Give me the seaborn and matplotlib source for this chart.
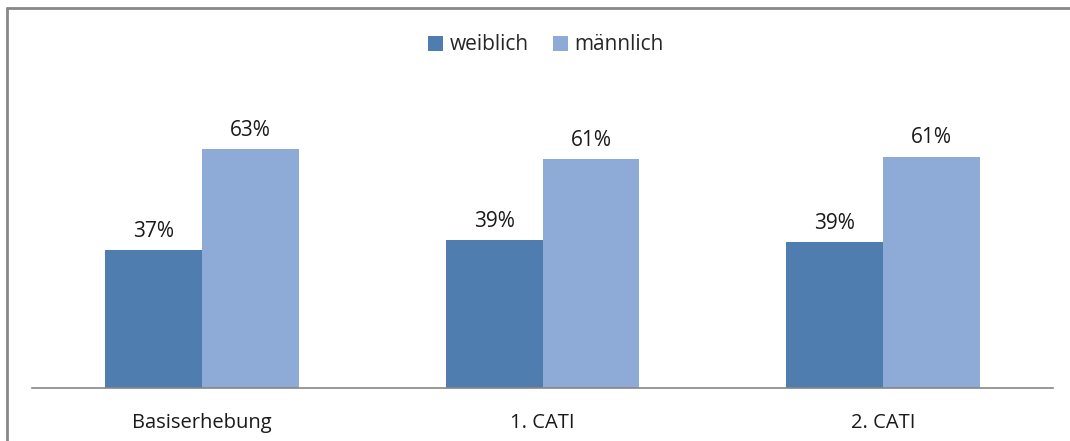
import matplotlib
matplotlib.use("Agg")
import matplotlib.pyplot as plt
import seaborn as sns
import pandas as pd
from matplotlib.patches import Patch

categories = ["Basiserhebung", "1. CATI", "2. CATI"]
series_names = ["weiblich", "männlich"]
weiblich = [36.6, 39.3, 38.6]
maennlich = [63.4, 60.7, 61.4]
labels_w = ["37%", "39%", "39%"]
labels_m = ["63%", "61%", "61%"]

colors = ["#4F7DB0", "#8EAAD6"]

df = pd.DataFrame({
    "cat": categories * 2,
    "series": [series_names[0]] * 3 + [series_names[1]] * 3,
    "value": weiblich + maennlich,
})

sns.set_style("white")
plt.rcParams["font.family"] = ["Open Sans", "DejaVu Sans"]

W, H = 1070, 441
fig = plt.figure(figsize=(W / 100, H / 100), dpi=100)
left, right, bottom_px = 32, 1053, 388
ymax = 80
scale = 3.77
top_px = bottom_px - ymax * scale
ax = fig.add_axes([left / W, 1 - bottom_px / H, (right - left) / W, (bottom_px - top_px) / H])

sns.barplot(data=df, x="cat", y="value", hue="series", order=categories,
            hue_order=series_names, palette=colors, width=0.57, ax=ax,
            saturation=1, errorbar=None, legend=False, linewidth=0)
ax.set_ylim(0, ymax)
ax.set_xlim(-0.5, 2.5)
ax.set_xlabel("")
ax.set_ylabel("")
ax.set_yticks([])
for s in ["top", "right", "left"]:
    ax.spines[s].set_visible(False)
ax.spines["bottom"].set_color("#868686")
ax.spines["bottom"].set_linewidth(1.2)
ax.tick_params(axis="x", length=0, pad=18, labelsize=14.5, labelcolor="#1a1a1a")

for cont, labs in zip(ax.containers, [labels_w, labels_m]):
    ax.bar_label(cont, labels=labs, padding=6, fontsize=15, color="#1a1a1a")

handles = [Patch(facecolor=c, edgecolor="none") for c in colors]
fig.legend(handles, series_names, loc="center", bbox_to_anchor=(546 / W, 1 - 45 / H),
           ncol=2, frameon=False, fontsize=15, handlelength=0.7, handleheight=0.7,
           handletextpad=0.3, columnspacing=1.2)

# frame border (top and left visible)
fig.add_artist(plt.Line2D([7 / W, 7 / W], [0, 1 - 8 / H], transform=fig.transFigure,
                          color="#888888", linewidth=2))
fig.add_artist(plt.Line2D([7 / W, 1], [1 - 8 / H, 1 - 8 / H], transform=fig.transFigure,
                          color="#888888", linewidth=2))

fig.savefig("out.png", dpi=100)
